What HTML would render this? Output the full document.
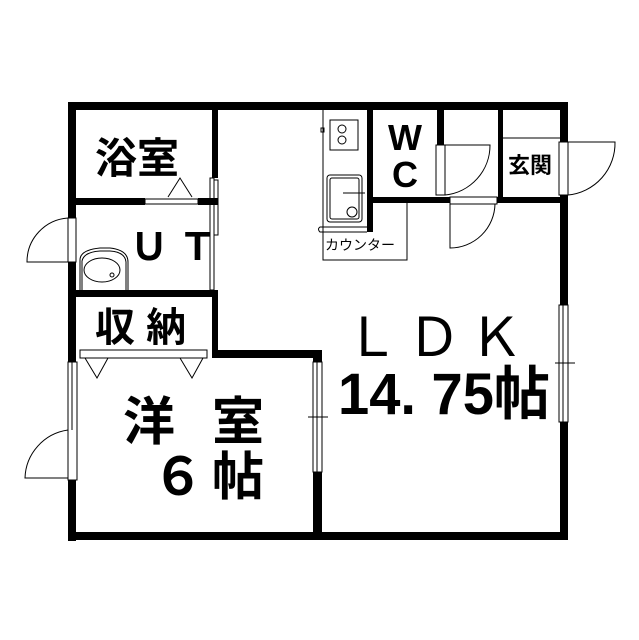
<!DOCTYPE html>
<html><head><meta charset="utf-8"><style>
html,body{margin:0;padding:0;background:#fff;width:639px;height:640px;overflow:hidden}
svg{display:block}
text{font-family:"Liberation Sans","Noto Sans CJK JP",sans-serif;fill:#000}
</style></head><body>
<svg width="639" height="640" viewBox="0 0 639 640">
<g fill="#000">
<rect x="68" y="102" width="500" height="8"/>
<rect x="68" y="102" width="8" height="116"/>
<rect x="68" y="262" width="8" height="100"/>
<rect x="68" y="480" width="8" height="61"/>
<rect x="68" y="532" width="500" height="8"/>
<rect x="560" y="102" width="8" height="40"/>
<rect x="560" y="195" width="8" height="110"/>
<rect x="560" y="422" width="8" height="118"/>
<rect x="76" y="198" width="69" height="7"/>
<rect x="198" y="198" width="20" height="7"/>
<rect x="212" y="110" width="6" height="68"/>
<rect x="212" y="290" width="6" height="68"/>
<rect x="76" y="290" width="142" height="7"/>
<rect x="212" y="350" width="110" height="8"/>
<rect x="313" y="350" width="9" height="12"/>
<rect x="313" y="472" width="9" height="68"/>
<rect x="367" y="110" width="6" height="122"/>
<rect x="437" y="110" width="7" height="37"/>
<rect x="367" y="197" width="83" height="6"/>
<rect x="497" y="197" width="70" height="6"/>
<rect x="498" y="110" width="5" height="90"/>
</g>
<g fill="none" stroke="#000" stroke-width="1">
<rect x="145" y="199" width="53" height="5" fill="#fff"/>
<path d="M168 197 L180 178 L192 197"/>
<rect x="210" y="178" width="4" height="112"/>
<rect x="214" y="180" width="4" height="55"/>
<rect x="68" y="218" width="8" height="44" fill="#fff"/>
<path d="M68 218 A44 44 0 0 0 27 262 L68 262"/>
<path d="M80 290 L80 260 Q80 250 100 248 L110 248 Q128 250 128 262 L128 290"/>
<path d="M82 290 L82 261 Q84 252 100 251 L110 251 Q125 252 126 262 L126 290"/>
<ellipse cx="102" cy="270" rx="18" ry="12"/>
<circle cx="112" cy="275" r="2"/>
<rect x="80" y="350" width="127" height="8" fill="#fff"/>
<path d="M85 358 L97 378 L108 358 M180 358 L192 378 L203 358"/>
<rect x="68" y="362" width="9" height="118" fill="#fff"/>
<line x1="72" y1="362" x2="72" y2="430"/>
<path d="M68 430 A50 50 0 0 0 25 478 L68 478"/>
<rect x="313" y="362" width="9" height="110" fill="#fff"/>
<line x1="317" y1="362" x2="317" y2="472"/>
<line x1="308" y1="417" x2="328" y2="417"/>
<rect x="559" y="305" width="9" height="117" fill="#fff"/>
<line x1="563" y1="305" x2="563" y2="422"/>
<line x1="555" y1="363" x2="575" y2="363"/>
<path d="M323 110 L323 260 L407 260 L407 203"/>
<rect x="330" y="120" width="28" height="30"/>
<circle cx="342" cy="129" r="4"/><circle cx="342" cy="140" r="4"/>
<rect x="321" y="128" width="3" height="4"/>
<rect x="327" y="175" width="35" height="47" rx="3"/>
<rect x="330" y="178" width="29" height="41" rx="2"/>
<line x1="343" y1="193" x2="365" y2="193"/>
<circle cx="352" cy="212" r="5"/>
<path d="M367 227 L320 227 Q317 229 320 232 L367 232"/>
<rect x="436" y="145" width="9" height="50" fill="#fff"/>
<path d="M445 145 L490 145 A50 50 0 0 1 445 195"/>
<rect x="450" y="197" width="47" height="7" fill="#fff"/>
<path d="M450 204 L450 248 A45 45 0 0 0 495 204"/>
<line x1="503" y1="138" x2="560" y2="138"/>
<rect x="559" y="142" width="9" height="53" fill="#fff"/>
<path d="M568 142 L615 142 A52 52 0 0 1 568 195"/>
</g>
<g font-weight="bold">
<text x="95" y="173" font-size="42">浴室</text>
<text x="130" y="260" font-size="38">Ｕ Ｔ</text>
<text x="95" y="341" font-size="40">収 納</text>
<text x="388" y="150" font-size="36">W</text>
<text x="392" y="187" font-size="36">C</text>
<text x="508" y="173" font-size="22">玄関</text>
<text x="123" y="440" font-size="52">洋</text>
<text x="212" y="440" font-size="52">室</text>
<text x="152" y="495" font-size="52">６</text>
<text x="212" y="495" font-size="52">帖</text>
<text x="338" y="414" font-size="58" textLength="212" lengthAdjust="spacingAndGlyphs">14. 75帖</text>
</g>
<text x="345" y="356" font-size="54" textLength="178" lengthAdjust="spacing">ＬＤＫ</text>
<text x="325" y="250" font-size="14" fill="#444">カウンター</text>
</svg>
</body></html>
